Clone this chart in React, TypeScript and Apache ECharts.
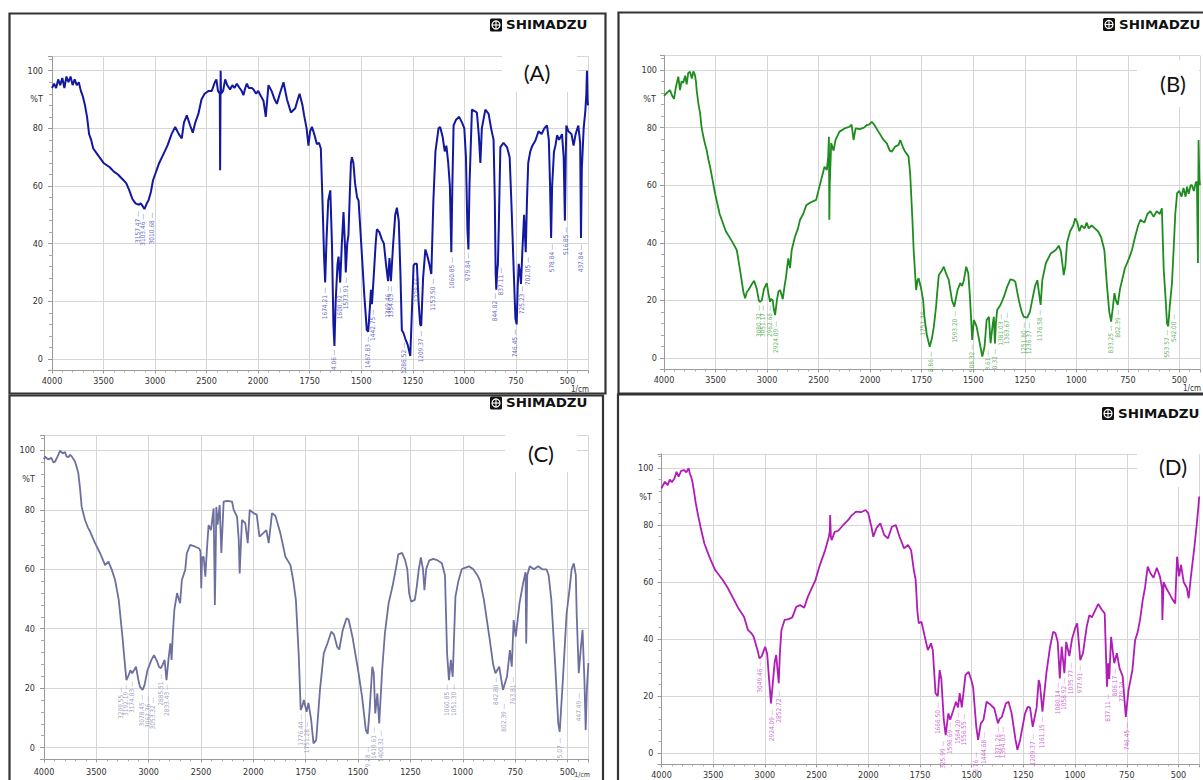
import React, { useEffect, useRef } from "react";
import * as echarts from "echarts";

// ---------- data ----------
const xTickLabels = ["4000", "3500", "3000", "2500", "2000", "1750", "1500", "1250", "1000", "750", "500"];

const specA: number[][] = [
  [4000,94],[3980,95.5],[3960,94],[3940,97],[3920,95],[3900,97.5],[3880,94],[3860,98],[3840,96],[3820,98],[3800,95],[3780,97],[3760,95],[3740,96],[3720,93],[3700,91],[3680,88],[3660,84],[3640,78],[3620,76],[3600,73],[3580,72],[3540,70],[3500,68],[3440,66.5],[3400,65],[3360,64],[3320,62.5],[3280,61],[3250,58.5],[3220,55.5],[3190,54],[3157,53.5],[3140,54],[3120,53],[3103,52],[3080,54],[3064,55],[3040,58],[3020,62],[3000,64],[2960,68],[2920,71],[2880,74],[2840,78],[2805,80.5],[2770,78],[2741,76.5],[2720,82],[2692,84.5],[2660,81],[2634,78.5],[2610,82],[2580,85],[2550,90],[2520,92],[2480,93],[2450,93],[2420,96],[2405,97],[2390,93],[2372,92],[2369,65.5],[2364,100],[2360,92],[2340,93],[2320,97],[2300,95],[2272,93.5],[2250,95],[2230,94],[2207,95.5],[2180,94],[2160,93],[2143,91.5],[2125,94],[2110,95.5],[2090,94],[2060,94],[2045,93.5],[2020,92],[2000,93],[1985,91],[1974,89.5],[1963,84],[1950,95],[1935,93],[1920,90],[1909,88.5],[1895,92],[1877,96],[1860,90],[1841,85.5],[1820,87],[1808,90],[1799,92],[1785,88],[1777,84.5],[1765,80],[1756,74],[1748,79],[1739,80.5],[1728,78],[1715,74.5],[1705,75],[1696,73],[1688,55],[1680,35],[1675,26.5],[1668,42],[1660,55],[1650,58.5],[1642,40],[1635,12],[1630,4.5],[1624,20],[1615,33],[1610,35.5],[1602,26.5],[1594,40],[1586,51],[1578,38],[1575,30],[1568,40],[1562,43],[1556,56],[1550,68],[1545,70],[1538,68],[1530,61],[1520,56],[1513,55],[1500,40],[1485,22],[1473,10],[1466,9.5],[1458,18],[1453,24],[1448,19],[1440,28],[1430,40],[1424,45],[1412,44],[1400,41.5],[1390,40],[1380,33],[1370,27],[1363,35],[1356,27],[1345,40],[1335,50],[1327,52.5],[1318,48],[1310,30],[1303,10],[1295,9],[1286,7],[1275,5],[1262,1],[1255,15],[1246,32.5],[1240,33],[1230,33],[1222,20],[1214,12],[1209,11.5],[1200,28],[1189,38],[1180,36],[1170,33],[1160,29.5],[1150,55],[1140,72],[1125,80],[1117,80.5],[1105,77],[1095,72],[1087,74],[1078,68],[1070,60],[1063,37],[1058,60],[1052,81],[1040,83],[1025,84],[1011,82],[1000,80],[992,70],[985,45],[980,38],[975,60],[963,86.5],[950,86],[939,85.5],[930,78],[922,68],[915,80],[898,86.5],[882,85],[870,80],[858,76],[852,55],[848,30],[845,24],[841,30],[837,33],[833,45],[825,73.5],[810,75],[793,73.5],[780,70],[772,55],[760,30],[752,14],[746,12],[741,25],[736,33],[730,30],[725,26],[718,38],[710,50],[702,37],[696,55],[690,68],[680,72],[670,74],[655,75.8],[640,79],[625,78],[612,80],[599,81],[590,76],[584,60],[579,42],[574,60],[565,72],[558,74],[550,77.6],[540,76],[526,78],[518,70],[512,48],[508,70],[505,81],[495,79],[480,78],[470,74],[460,78],[447,81],[438,75],[434,42],[430,66],[421,80],[413,86],[408,92],[405,100],[402,90],[400,88]
];

const specB: number[][] = [
  [4000,91],[3984,91.6],[3960,92.5],[3942,93],[3920,91],[3903,90],[3885,94],[3861,97.7],[3845,93],[3830,96],[3813,95.6],[3795,98],[3780,95],[3765,99],[3748,99.4],[3730,97],[3715,99.5],[3700,98.3],[3690,96],[3683,93],[3665,88],[3650,85],[3635,80],[3618,76.8],[3600,74],[3586,72.2],[3570,69],[3553,66.4],[3530,62],[3505,57.2],[3460,50],[3400,44],[3340,40.5],[3294,37.5],[3260,30],[3230,23],[3213,20.7],[3195,23],[3181,23.6],[3150,25.5],[3126,26.8],[3100,24],[3080,20],[3068,19.5],[3051,20],[3030,24],[3003,26],[2985,22],[2971,19.5],[2960,20.5],[2945,20],[2935,17],[2922,14.9],[2905,20],[2890,23],[2874,23.6],[2860,22],[2848,20.4],[2830,25],[2816,28.2],[2800,33],[2794,34.6],[2777,31.2],[2761,37.5],[2730,42],[2700,45],[2680,48],[2650,50],[2620,53],[2580,54],[2524,54.9],[2492,59.5],[2460,64],[2443,66.4],[2420,65.3],[2407,70],[2400,76.8],[2396,48],[2392,60],[2378,74.6],[2355,72],[2336,75.7],[2297,78.6],[2248,79.7],[2200,80.3],[2180,81],[2161,75.7],[2141,79.7],[2100,79.5],[2060,80],[2032,80.9],[2010,81],[1992,82],[1980,81],[1960,78.6],[1935,75.7],[1919,74.5],[1905,72],[1895,71.6],[1879,73.4],[1862,74],[1854,75.7],[1840,73],[1830,71.6],[1814,70],[1806,64.2],[1795,48],[1789,37.5],[1777,23.6],[1770,27],[1765,27.7],[1753,24.2],[1743,20.1],[1737,14.3],[1725,8],[1711,3.9],[1700,7],[1691,10.9],[1680,18],[1675,22.5],[1667,28.8],[1655,30],[1643,31.7],[1630,29],[1619,27.2],[1603,20],[1592,17.8],[1576,23.6],[1563,26],[1554,25],[1546,26.8],[1534,31.7],[1524,29.4],[1516,21.3],[1505,6.3],[1497,13.2],[1484,11],[1465,3.9],[1456,0.5],[1445,4],[1435,13.2],[1424,14.3],[1416,5.1],[1405,12],[1400,14.3],[1395,5],[1390,12],[1384,16.7],[1368,18.4],[1351,21.3],[1335,24.8],[1320,27.3],[1305,27],[1296,26.5],[1279,20.1],[1265,16],[1255,14.3],[1238,14],[1225,16],[1214,20.1],[1200,25],[1189,27],[1180,22],[1173,18.4],[1165,27],[1148,32.9],[1124,36.3],[1100,37.5],[1085,39],[1075,37],[1068,33],[1061,28.8],[1053,32],[1045,40],[1030,44],[1015,46],[1005,48.5],[995,47],[985,44],[975,46],[960,45],[950,47],[940,45],[925,46],[910,45],[895,44],[880,42],[864,37.5],[851,24.8],[840,16],[831,12.6],[822,18],[815,22.5],[808,20],[799,18.4],[788,24],[778,27],[765,31],[754,32.9],[742,35],[730,37.5],[715,42],[700,46],[689,48],[670,47],[655,50],[641,51],[625,49],[610,51],[595,50],[585,52],[576,30.6],[568,22],[560,12],[554,11],[547,17.8],[536,26],[528,37.5],[520,50],[511,57.2],[500,58],[490,56],[480,59],[470,56],[463,59.5],[455,57],[445,60],[439,60],[430,58],[420,61],[415,61.2],[410,33],[407,75.7],[403,62],[400,60]
];

const specC: number[][] = [
  [4000,97],[3990,97.9],[3960,97],[3930,97.5],[3910,96],[3895,96.2],[3870,98],[3847,99.9],[3820,99],[3800,99.5],[3785,98],[3767,97.7],[3750,98.5],[3735,98],[3703,96.2],[3685,94],[3672,92.3],[3655,87],[3640,81],[3608,76.6],[3580,74],[3560,72.7],[3512,68.8],[3464,65.4],[3416,61.4],[3385,62.6],[3352,59.8],[3321,56.4],[3286,49.7],[3250,37],[3231,29.5],[3213,22.7],[3195,24],[3175,26],[3158,25],[3140,26],[3121,27.2],[3100,23],[3084,20.5],[3058,19.4],[3040,21],[3011,26.1],[2990,28],[2974,29.5],[2949,31.1],[2920,29],[2902,27.2],[2883,26.7],[2865,28],[2848,29.5],[2830,22.7],[2810,30],[2793,35.1],[2781,29.5],[2770,38],[2755,46.3],[2729,52],[2700,48.6],[2683,56.4],[2651,59.8],[2636,65.4],[2603,68.2],[2555,67.6],[2517,67],[2505,66],[2498,53.6],[2490,64],[2475,64.2],[2459,57.5],[2445,66],[2428,74.9],[2405,73.2],[2380,80.5],[2372,60],[2368,48],[2362,60],[2354,81],[2342,75],[2322,81.6],[2306,65.5],[2284,82.8],[2250,83],[2204,82.8],[2188,80],[2156,77.7],[2140,70],[2131,58.6],[2120,68],[2109,76.6],[2077,75.5],[2054,68.8],[2035,80],[2000,78.9],[1984,78.4],[1971,71],[1955,72],[1938,73.2],[1927,68.8],[1911,78.9],[1895,78],[1871,72.1],[1847,64.2],[1823,61.4],[1810,56.4],[1797,49.7],[1783,30.6],[1774,12.6],[1766,14],[1759,16],[1746,12],[1737,15],[1724,9.3],[1713,1.4],[1700,2.5],[1682,19.4],[1664,31.7],[1646,35.1],[1628,39],[1615,38],[1600,33.9],[1590,33],[1573,39.6],[1555,43.5],[1545,43],[1527,37.3],[1500,26.1],[1481,17.1],[1463,5.9],[1454,4.6],[1445,12.6],[1432,27.2],[1425,25],[1418,11.5],[1408,18.2],[1399,8.1],[1385,26.1],[1372,38.4],[1354,48.6],[1336,54.1],[1320,60],[1308,65],[1290,65.5],[1275,63],[1265,60],[1256,51.9],[1247,49.1],[1229,49.7],[1220,54],[1210,60],[1200,64],[1190,60],[1183,53],[1175,60],[1160,63],[1140,63.5],[1120,63],[1100,62],[1085,58],[1075,31.7],[1066,22.7],[1057,29.5],[1048,23.8],[1035,50.8],[1021,56],[1005,60],[990,60.5],[970,61],[950,60],[930,58],[917,56],[899,49.7],[871,36.2],[855,28],[844,25],[826,27.2],[808,19.4],[789,23.8],[775,32.8],[766,27.2],[757,42.9],[747,37.3],[729,48.6],[710,56],[700,59],[697,35],[692,58],[680,61],[660,60],[640,61],[620,60],[600,60],[590,58],[577,49.7],[559,28.4],[544,8.1],[537,5.3],[522,22.7],[504,45.2],[489,54],[480,60],[470,62],[460,58],[456,45],[446,25],[437,32.8],[428,39.6],[419,22.7],[413,5.9],[407,20],[400,28.4]
];

const specD: number[][] = [
  [4000,92.9],[3985,94],[3967,95.2],[3940,94],[3920,96],[3900,95],[3874,96.4],[3855,98.7],[3835,97],[3810,99],[3781,99.3],[3760,98.5],[3737,99.9],[3725,98],[3714,97],[3700,95],[3688,92.3],[3670,88],[3650,84.1],[3623,79.4],[3586,73.6],[3538,68.9],[3481,64.2],[3408,60.7],[3360,58],[3314,54.8],[3260,51],[3202,47.8],[3164,43.2],[3130,42],[3109,40.8],[3071,36.1],[3053,33.2],[3030,34],[3010,36],[2997,37.3],[2978,34.8],[2960,26],[2941,17.4],[2921,25.6],[2905,32],[2891,34.4],[2880,30],[2866,24.5],[2855,35],[2840,43.2],[2810,46.7],[2770,47],[2735,47.6],[2697,51.3],[2660,51.9],[2620,51],[2585,54.8],[2548,57.8],[2511,60.7],[2474,65.4],[2417,71.2],[2381,75.9],[2372,78],[2369,83.5],[2362,76],[2355,74.7],[2325,77.6],[2290,78],[2243,80],[2194,81.8],[2157,83.5],[2119,84.7],[2070,84.5],[2026,85.3],[2000,84.1],[1985,79.4],[1976,75.9],[1960,79],[1942,80.6],[1923,76.5],[1905,75.3],[1886,79.4],[1867,80],[1849,75.9],[1827,71.8],[1808,73],[1793,71.2],[1780,64.2],[1771,60.7],[1763,50],[1756,45.5],[1743,46.1],[1725,40.2],[1712,36.1],[1697,38.5],[1688,36],[1675,21],[1664,19.9],[1655,29.1],[1647,26],[1635,11.6],[1626,6.3],[1613,13.9],[1604,11.7],[1589,15],[1576,18],[1566,16],[1558,21],[1548,16],[1530,27.4],[1515,28.5],[1502,25.6],[1493,23],[1478,9.2],[1469,4.6],[1456,10.4],[1443,11.7],[1428,18],[1410,17],[1391,15.7],[1373,10.4],[1365,12],[1354,12.7],[1335,17.4],[1322,18],[1307,13.9],[1288,4.6],[1279,1.1],[1266,4.6],[1242,13.9],[1229,16.2],[1218,16],[1205,9.2],[1186,16],[1176,25.6],[1170,24],[1158,14.5],[1139,28],[1121,37.3],[1106,42.6],[1095,42],[1084,39],[1074,26.2],[1065,37.3],[1052,28],[1043,39],[1028,34],[1015,40],[1000,43.8],[990,45.5],[975,32.6],[962,35],[944,44.3],[931,48.4],[919,47.6],[910,49],[888,52.3],[870,50.2],[857,49],[846,23.3],[840,31.5],[835,26],[826,40.8],[811,31.5],[798,35],[785,29.7],[770,27],[755,12.7],[742,22],[723,29.1],[710,39.6],[699,42],[686,46.7],[673,53.7],[662,58],[649,65.4],[635,63],[621,61.5],[605,65],[590,62],[580,58],[578,46.7],[572,60],[560,58],[545,56],[530,54],[516,52.5],[507,68.9],[497,62],[488,66],[475,60],[460,58],[451,54.3],[440,62],[423,72.4],[413,79.4],[404,86.4],[400,90]
];

// peak annotations: [wavenumber position, %T anchor, text]
const peaksA: (number | string)[][] = [
  [3165,51.5,"3157.47"],[3115,50.5,"3103.46"],[3030,51,"3010.68"],[1675,25,"1674.21"],[1630,3.5,"4.06"],[1602,25,"1600.92"],[1575,28.5,"1573.91"],[1468,8,"1467.83"],[1443,17.5,"1442.75"],[1369,25.5,"1369.46"],[1354,25.5,"1354.03"],[1294,6,"1286.52"],[1228,31,"1228.66"],[1209,10,"1209.37"],[1150,28,"1153.50"],[1061,35.5,"1060.85"],[980,37,"979.84"],[849,23,"844.82"],[822,32,"837.11"],[752,10.5,"746.45"],[720,25.5,"725.23"],[690,35.5,"702.05"],[575,40,"578.84"],[507,46,"516.85"],[433,40,"437.84"]
];
const peaksB: (number | string)[][] = [
  [3074,18.5,"3080.32"],[3040,18.5,"3051.17"],[2971,18.5,"2962.66"],[2913,13,"2924.09"],[1746,19,"1751.36"],[1707,2.5,"8.86"],[1590,16.5,"1593.20"],[1506,5,"508.32"],[1430,3,"3.61"],[1396,3.5,"0.32"],[1364,15.5,"1381.03"],[1336,16,"1363.67"],[1252,12.5,"1251.80"],[1228,12.5,"1236.37"],[1175,17,"1176.58"],[832,11.5,"833.25"],[800,17,"802.39"],[560,10,"553.57"],[528,15.5,"542.00"]
];
const peaksC: (number | string)[][] = [
  [3267,20.5,"3209.55"],[3212,21.5,"3192.19"],[3158,22.5,"3174.83"],[3066,18,"3078.45"],[3011,17.5,"3062.36"],[2957,17,"3053.32"],[2883,25,"2885.51"],[2821,21.5,"2833.43"],[1774,11.5,"1776.44"],[1746,9,"1751.28"],[1454,0.5,"9.18"],[1422,7,"1419.61"],[1391,6,"1400.32"],[1075,21.5,"1060.85"],[1044,21.5,"1051.30"],[840,24,"842.80"],[802,15,"802.39"],[762,24,"763.81"],[537,3.5,"5.07"],[446,18.5,"447.49"]
];
const peaksD: (number | string)[][] = [
  [3052,32.5,"3049.46"],[2933,15.5,"2924.09"],[2862,22,"2852.72"],[1663,18,"1666.50"],[1638,4.5,"325.99"],[1603,11,"1596.69"],[1565,14.5,"1564.20"],[1535,14,"1556.55"],[1478,0.5,"9.76"],[1441,7.5,"1444.68"],[1375,9.5,"1371.26"],[1347,9.5,"1354.03"],[1205,7,"1209.37"],[1158,13,"1161.15"],[1084,25,"1080.14"],[1053,26.5,"1058.92"],[1020,32,"1035.77"],[974,31,"977.91"],[843,21,"837.11"],[806,30,"806.17"],[773,28,"779.24"],[751,11,"746.45"]
];

// ---------- helpers ----------
// two-scale wavenumber axis: 4000-2000 compressed, 2000-400 expanded
const toU = (w: number) => (w >= 2000 ? (4000 - w) / 2 : 1000 + (2000 - w));
const FONT = "'Liberation Sans Narrow','DejaVu Sans Condensed','Liberation Sans',sans-serif";

type Panel = {
  grid: { left: number; top: number; width: number; height: number };
  color: string;
  labelColor: string;
  data: number[][];
  peaks: (number | string)[][];
  lw: number;
  xMargin: number;
  yMargin: number;
};

const panels: Panel[] = [
  { grid: { left: 52, top: 56.3, width: 536, height: 314.2 }, color: "#1218a0", labelColor: "#3b3db5", data: specA, peaks: peaksA, lw: 2, xMargin: 6, yMargin: 9 },
  { grid: { left: 664, top: 55.6, width: 536, height: 313.9 }, color: "#1e8c1e", labelColor: "#35a035", data: specB, peaks: peaksB, lw: 1.8, xMargin: 6, yMargin: 7 },
  { grid: { left: 44, top: 435.6, width: 544.4, height: 323.8 }, color: "#6d6f9f", labelColor: "#8587ae", data: specC, peaks: peaksC, lw: 1.8, xMargin: 8, yMargin: 9 },
  { grid: { left: 661.5, top: 453.8, width: 537.7, height: 310.6 }, color: "#b01cb6", labelColor: "#c23cc8", data: specD, peaks: peaksD, lw: 1.8, xMargin: 6, yMargin: 8 },
];

function logo(x: number, yc: number) {
  const z = 20;
  return {
    type: "group",
    x,
    y: yc - 6.5,
    children: [
      { type: "rect", z, shape: { x: 0, y: 0, width: 12, height: 13, r: 1.5 }, style: { fill: "#111" } },
      { type: "circle", z: z + 1, shape: { cx: 6, cy: 6.5, r: 4 }, style: { fill: "none", stroke: "#fff", lineWidth: 1.2 } },
      { type: "line", z: z + 1, shape: { x1: 6, y1: 2.5, x2: 6, y2: 10.5 }, style: { stroke: "#fff", lineWidth: 1.1 } },
      { type: "line", z: z + 1, shape: { x1: 2, y1: 6.5, x2: 10, y2: 6.5 }, style: { stroke: "#fff", lineWidth: 1.1 } },
      {
        type: "text", z, x: 16, y: 6.5, scaleX: 1.12,
        style: { text: "SHIMADZU", fontSize: 12, fontWeight: "bold", fontFamily: "'DejaVu Sans',sans-serif", fill: "#111", verticalAlign: "middle", textVerticalAlign: "middle" },
      },
    ],
  };
}

function tag(text: string, cx: number, cy: number, box: number[]) {
  return [
    { type: "rect", z: 15, shape: { x: box[0], y: box[1], width: box[2], height: box[3] }, style: { fill: "#fff" } },
    { type: "text", z: 16, x: cx, y: cy, style: { text, fontSize: 22, fontFamily: "Lato,'Open Sans',sans-serif", fill: "#111", align: "center", textAlign: "center", verticalAlign: "middle", textVerticalAlign: "middle" } },
  ];
}

function small(text: string, x: number, y: number, size = 9) {
  return { type: "text", z: 16, x, y, style: { text, fontSize: size, fontFamily: FONT, fill: "#333", align: "right", textAlign: "right", verticalAlign: "middle", textVerticalAlign: "middle" } };
}

function border(x: number, y: number, w: number, h: number) {
  return { type: "rect", z: 25, shape: { x, y, width: w, height: h }, style: { fill: "none", stroke: "#333", lineWidth: 2.2 } };
}

export default function App() {
  const ref = useRef<HTMLDivElement>(null);
  useEffect(() => {
    document.body.style.margin = "0";
    const chart = echarts.init(ref.current!, null, { renderer: "svg" });
    const option: any = {
      animation: false,
      backgroundColor: "#fff",
      grid: panels.map((p) => ({ ...p.grid, containLabel: false })),
      xAxis: panels.map((p, i) => ({
        type: "value",
        gridIndex: i,
        min: 0,
        max: 2600,
        interval: 250,
        axisLine: { show: true, onZero: false, lineStyle: { color: "#9a9a9a", width: 1 } },
        axisTick: { show: true, length: 3, lineStyle: { color: "#9a9a9a" } },
        minorTick: { show: true, splitNumber: 5, length: 2, lineStyle: { color: "#aaaaaa" } },
        splitLine: { show: true, lineStyle: { color: "#d6d6d6", width: 1 } },
        axisLabel: {
          margin: p.xMargin, fontSize: 9, color: "#333", fontFamily: FONT, showMaxLabel: false,
          formatter: (u: number) => xTickLabels[Math.round(u / 250)] ?? "",
        },
      })),
      yAxis: panels.map((p, i) => ({
        type: "value",
        gridIndex: i,
        min: -4,
        max: 105,
        splitNumber: 5,
        axisLine: { show: true, onZero: false, lineStyle: { color: "#9a9a9a", width: 1 } },
        axisTick: { show: true, length: 4, lineStyle: { color: "#9a9a9a" } },
        minorTick: { show: true, splitNumber: 5, length: 3, lineStyle: { color: "#aaaaaa" } },
        splitLine: { show: true, lineStyle: { color: "#d6d6d6", width: 1 } },
        axisLabel: {
          margin: p.yMargin, fontSize: 9, color: "#333", fontFamily: FONT, showMinLabel: false, showMaxLabel: false,
          formatter: (v: number) => String(Math.round(v)),
        },
      })),
      series: [
        ...panels.map((p, i) => ({
          type: "line",
          xAxisIndex: i,
          yAxisIndex: i,
          showSymbol: false,
          symbol: "none",
          silent: true,
          z: 3,
          lineStyle: { color: p.color, width: p.lw },
          data: p.data.map(([w, v]) => [toU(w), v]),
        })),
        ...panels.map((p, i) => ({
          type: "scatter",
          xAxisIndex: i,
          yAxisIndex: i,
          symbolSize: 1,
          silent: true,
          z: 4,
          itemStyle: { color: "rgba(0,0,0,0)" },
          data: p.peaks.map(([w, v, t]) => ({ name: t as string, value: [toU(w as number), v as number] })),
          label: {
            show: true, position: "bottom", distance: 0, rotate: 90, align: "right", verticalAlign: "middle",
            formatter: "{b} \u2014", fontSize: 6.5, fontFamily: FONT, color: p.labelColor,
          },
        })),
      ],
      graphic: [
        border(9.5, 13.5, 596, 380),
        border(618.5, 12.5, 600, 381),
        border(9.5, 395.5, 593.5, 400),
        border(618, 394.5, 600, 400),
        logo(490, 25),
        logo(1103, 24.5),
        logo(490, 403),
        logo(1102, 413.5),
        ...tag("(A)", 537, 72, [502, 55, 75, 37]),
        ...tag("(B)", 1173, 83, [1137, 60, 62, 47]),
        ...tag("(C)", 541, 453, [505, 434, 72, 38]),
        ...tag("(D)", 1173, 466, [1137, 452, 62, 35]),
        small("%T", 43, 99),
        small("%T", 656, 99),
        small("%T", 35, 479),
        small("%T", 652, 497),
        small("1/cm", 589, 389, 8),
        small("1/cm", 1201, 388, 8),
        small("1/cm", 590, 775, 7),
      ],
    };
    chart.setOption(option);
    return () => chart.dispose();
  }, []);
  return <div ref={ref} style={{ position: "absolute", left: 0, top: 0, width: 1203, height: 780, background: "#fff" }} />;
}
